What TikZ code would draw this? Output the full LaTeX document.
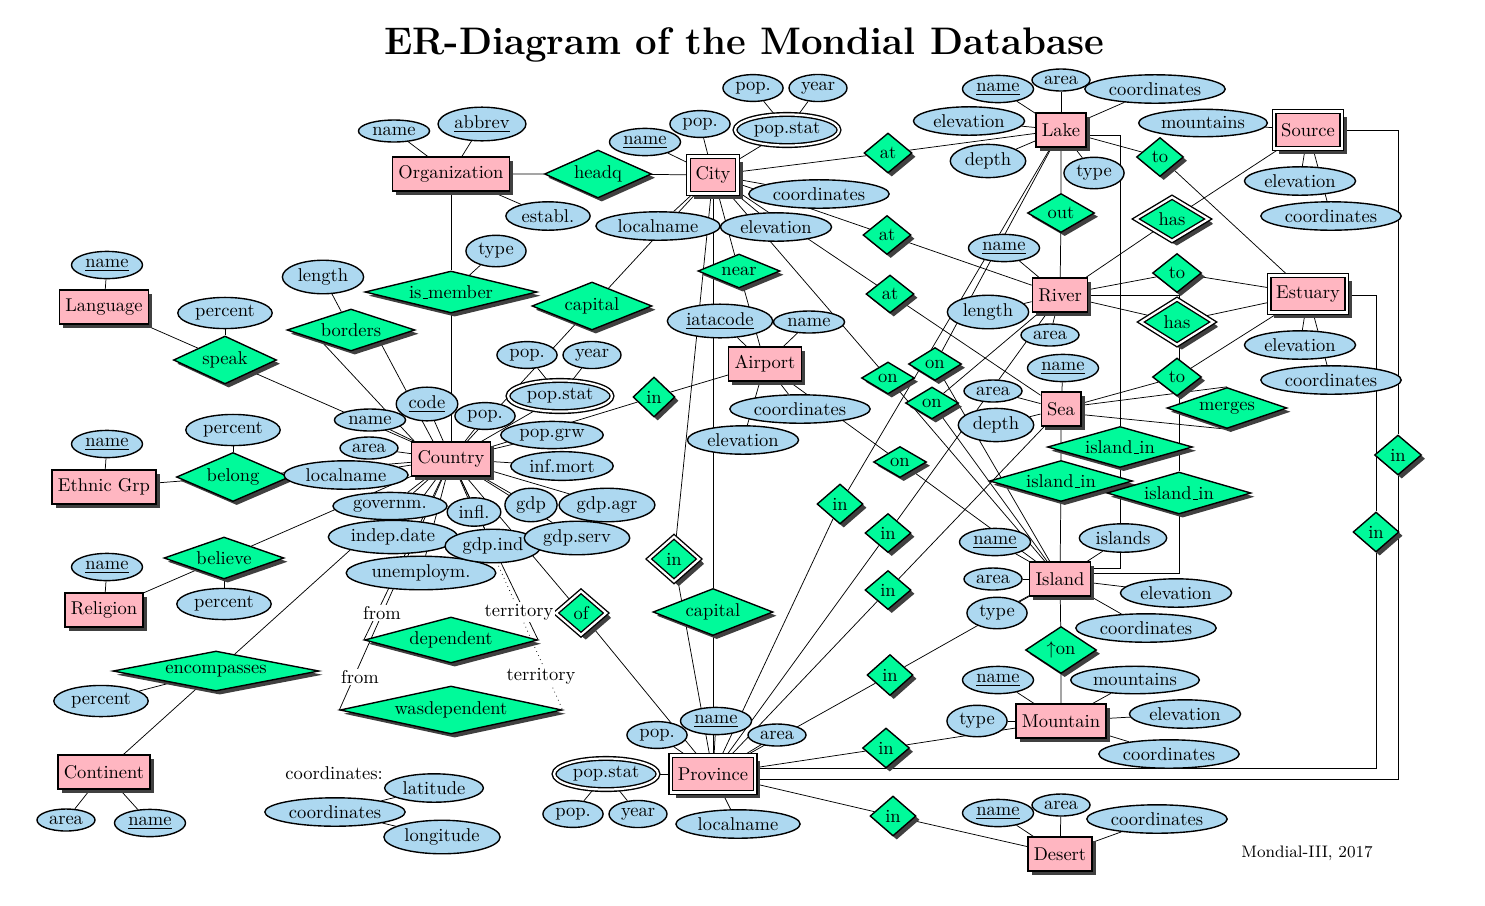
\documentclass[tikz,border=0pt]{standalone}
\usetikzlibrary{shapes.geometric,shadows,calc}
\definecolor{entpink}{RGB}{255,182,193}
\definecolor{attrblue}{RGB}{173,216,240}
\definecolor{relgreen}{RGB}{0,250,154}
\pgfdeclarelayer{background}
\pgfsetlayers{background,main}
% narrow underscore as in Computer Modern
\newcommand{\usc}{\kern.06em\vbox{\hrule width.3em}}
\begin{document}
\begin{tikzpicture}[x=0.54pt,y=-0.54pt,line width=0.75pt,
  dropsh/.style={drop shadow={shadow xshift=2pt,shadow yshift=-2pt,fill=black!75,opacity=1}},
  ent/.style={rectangle,draw,fill=entpink,inner xsep=3.2pt,minimum height=18.2pt,dropsh},
  went/.style={rectangle,draw,fill=entpink,double,double distance=1.2pt,inner xsep=3.8pt,minimum height=20pt,
     drop shadow={shadow xshift=2.8pt,shadow yshift=-2.8pt,fill=black!75,opacity=1}},
  attr/.style={ellipse,draw,fill=attrblue,inner sep=1.9pt},
  mattr/.style={attr,double,double distance=1.2pt},
  rel/.style={diamond,draw,fill=relgreen,inner sep=0pt,dropsh},
  wrel/.style={rel,double,double distance=1.2pt,
     drop shadow={shadow xshift=2.6pt,shadow yshift=-2.6pt,fill=black!75,opacity=1}},
  dia/.style 2 args={minimum width=#1*0.54pt,minimum height=#2*0.54pt,
     /utils/exec={\pgfmathsetmacro\diaasp{#1/#2}},aspect=\diaasp},
  lbl/.style={fill=white,inner sep=1pt}]
\useasboundingbox (0,0) rectangle (1485,905);

\node[font=\huge\bfseries] (title) at (744,45) {ER-Diagram of the Mondial Database};

% entities
\node[ent]  (org)       at (451,174) {Organization};
\node[went] (city)      at (713,175) {City};
\node[ent]  (lake)      at (1061,130) {Lake};
\node[went] (source)    at (1308,130) {Source};
\node[ent]  (lang)      at (104,307) {Language};
\node[ent]  (river)     at (1060,295) {River};
\node[went] (estuary)   at (1308,294) {Estuary};
\node[ent]  (airport)   at (765,364) {Airport};
\node[ent]  (sea)       at (1061,409) {Sea};
\node[ent]  (country)   at (451,459) {Country};
\node[ent]  (ethnic)    at (104,487) {Ethnic Grp};
\node[ent]  (religion)  at (104,610) {Religion};
\node[ent]  (island)    at (1060,579) {Island};
\node[ent]  (mountain)  at (1061,721) {Mountain};
\node[ent]  (continent) at (104,772) {Continent};
\node[went] (province)  at (713,774) {Province};
\node[ent]  (desert)    at (1060,854) {Desert};

% relationships
\node[rel,dia={107}{48}]  (headq)    at (598,174) {headq};
\node[rel,dia={172}{42}]  (ismember) at (451,292) {is\usc member};
\node[rel,dia={120}{48}]  (capU)     at (592,306) {capital};
\node[rel,dia={128}{42}]  (borders)  at (351,330) {borders};
\node[rel,dia={103}{48}]  (speak)    at (225,360) {speak};
\node[rel,dia={113}{49}]  (belong)   at (233,477) {belong};
\node[rel,dia={120}{42}]  (believe)  at (224,558) {believe};
\node[rel,dia={206}{40}]  (encomp)   at (216,671) {encompasses};
\node[rel,dia={173}{46}]  (dep)      at (451,640) {dependent};
\node[rel,dia={222}{48}]  (wasdep)   at (451,710) {wasdependent};
\node[rel,dia={42}{40}]   (inAir)    at (654,397) {in};
\node[wrel,dia={51}{45}]  (inCity)   at (674,559) {in};
\node[wrel,dia={51}{44}]  (of)       at (581,613) {of};
\node[rel,dia={120}{47}]  (capL)     at (713,612) {capital};
\node[rel,dia={82}{34}]   (near)     at (739,271) {near};
\node[rel,dia={48}{40}]   (atLake)   at (888,153) {at};
\node[rel,dia={48}{39}]   (atRiver)  at (887,235) {at};
\node[rel,dia={48}{38}]   (atSea)    at (890,294) {at};
\node[rel,dia={67}{39}]   (out)      at (1061,213) {out};
\node[rel,dia={47}{39}]   (toLE)     at (1160,157) {to};
\node[wrel,dia={73}{44}]  (hasSR)    at (1172,219) {has};
\node[rel,dia={49}{39}]   (toRE)     at (1177,273) {to};
\node[wrel,dia={73}{46}]  (hasRE)    at (1177,322) {has};
\node[rel,dia={49}{38}]   (toSE)     at (1177,377) {to};
\node[rel,dia={120}{41}]  (merges)   at (1227,408) {merges};
\node[rel,dia={145}{41}]  (ilLake)   at (1120,447) {island\usc in};
\node[rel,dia={143}{41}]  (ilSea)    at (1061,481) {island\usc in};
\node[rel,dia={144}{42}]  (ilRiver)  at (1179,493) {island\usc in};
\node[rel,dia={53}{32}]   (onCity)   at (888,378) {on};
\node[rel,dia={53}{33}]   (onLake)   at (935,364) {on};
\node[rel,dia={53}{32}]   (onRiver)  at (932,403) {on};
\node[rel,dia={53}{31}]   (onAir)    at (900,462) {on};
\node[rel,dia={46}{40}]   (inLake)   at (840,504) {in};
\node[rel,dia={46}{39}]   (inRiver)  at (888,533) {in};
\node[rel,dia={46}{39}]   (inSea)    at (888,590) {in};
\node[rel,dia={46}{41}]   (inIsl)    at (890,675) {in};
\node[rel,dia={47}{40}]   (inMtn)    at (886,748) {in};
\node[rel,dia={46}{40}]   (inDes)    at (893,816) {in};
\node[rel,dia={71}{47}]   (upon)     at (1061,650) {$\uparrow$on};
\node[rel,dia={47}{40}]   (inSrc)    at (1398,455) {in};
\node[rel,dia={46}{40}]   (inEst)    at (1376,532) {in};

% attributes of Organization and City
\node[attr]  (orgName)    at (394,131) {name};
\node[attr]  (orgAbbrev)  at (482,124) {\underline{abbrev}};
\node[attr]  (orgEstabl)  at (548,216) {establ.};
\node[attr]  (cityName)   at (645,142) {\underline{name}};
\node[attr]  (cityPop)    at (700,124) {pop.};
\node[mattr] (cityPS)     at (787,130) {pop.stat};
\node[attr]  (cityPSpop)  at (753,88) {pop.};
\node[attr]  (cityPSyear) at (818,88) {year};
\node[attr]  (cityCoord)  at (819,194) {coordinates};
\node[attr]  (cityElev)   at (776,227) {elevation};
\node[attr]  (cityLocal)  at (658,226) {localname};

% attributes of Airport
\node[attr]  (airIata)    at (720,321) {\underline{iatacode}};
\node[attr]  (airName)    at (809,322) {name};
\node[attr]  (airCoord)   at (800,409) {coordinates};
\node[attr]  (airElev)    at (743,440) {elevation};

% attributes of Country
\node[attr]  (ctyCode)    at (427,404) {\underline{code}};
\node[attr]  (ctyName)    at (370,420) {name};
\node[attr]  (ctyArea)    at (369,448) {area};
\node[attr]  (ctyLocal)   at (346,475) {localname};
\node[attr]  (ctyGov)     at (390,506) {governm.};
\node[attr]  (ctyIndep)   at (393,537) {indep.date};
\node[attr]  (ctyUnemp)   at (421,573) {unemploym.};
\node[attr]  (ctyInfl)    at (474,512) {infl.};
\node[attr]  (ctyGdpInd)  at (493,546) {gdp.ind};
\node[attr]  (ctyGdp)     at (531,505) {gdp};
\node[attr]  (ctyGdpAgr)  at (607,505) {gdp.agr};
\node[attr]  (ctyGdpServ) at (577,538) {gdp.serv};
\node[attr]  (ctyInfMort) at (562,466) {inf.mort};
\node[attr]  (ctyPopGrw)  at (552,435) {pop.grw};
\node[attr]  (ctyPop)     at (485,416) {pop.};
\node[mattr] (ctyPS)      at (560,396) {pop.stat};
\node[attr]  (ctyPSpop)   at (527,355) {pop.};
\node[attr]  (ctyPSyear)  at (592,355) {year};

% attributes on the left side
\node[attr]  (langName)   at (107,265) {\underline{name}};
\node[attr]  (speakPct)   at (225,313) {percent};
\node[attr]  (bordLen)    at (323,277) {length};
\node[attr]  (memType)    at (496,251) {type};
\node[attr]  (ethName)    at (107,444) {\underline{name}};
\node[attr]  (belPct)     at (233,430) {percent};
\node[attr]  (relName)    at (107,567) {\underline{name}};
\node[attr]  (belvPct)    at (224,604) {percent};
\node[attr]  (encPct)     at (101,701) {percent};
\node[attr]  (contArea)   at (66,820) {area};
\node[attr]  (contName)   at (150,823) {\underline{name}};

% composite attribute coordinates
\node        (legLabel)   at (334,773) {coordinates:};
\node[attr]  (legCoord)   at (335,812) {coordinates};
\node[attr]  (legLat)     at (434,788) {latitude};
\node[attr]  (legLon)     at (442,837) {longitude};

% attributes of Province
\node[mattr] (provPS)     at (606,774) {pop.stat};
\node[attr]  (provPSpop)  at (573,814) {pop.};
\node[attr]  (provPSyear) at (638,814) {year};
\node[attr]  (provPop)    at (657,735) {pop.};
\node[attr]  (provName)   at (716,721) {\underline{name}};
\node[attr]  (provArea)   at (777,735) {area};
\node[attr]  (provLocal)  at (738,824) {localname};

% attributes of the geographical entities
\node[attr]  (lakeName)   at (998,89) {\underline{name}};
\node[attr]  (lakeArea)   at (1061,80) {area};
\node[attr]  (lakeCoord)  at (1155,89) {coordinates};
\node[attr]  (lakeElev)   at (969,121) {elevation};
\node[attr]  (lakeDepth)  at (988,161) {depth};
\node[attr]  (lakeType)   at (1094,173) {type};
\node[attr]  (srcMount)   at (1203,123) {mountains};
\node[attr]  (srcElev)    at (1300,181) {elevation};
\node[attr]  (srcCoord)   at (1331,216) {coordinates};
\node[attr]  (rivName)    at (1004,248) {\underline{name}};
\node[attr]  (rivLen)     at (988,312) {length};
\node[attr]  (rivArea)    at (1050,335) {area};
\node[attr]  (estElev)    at (1300,345) {elevation};
\node[attr]  (estCoord)   at (1331,380) {coordinates};
\node[attr]  (seaName)    at (1063,368) {\underline{name}};
\node[attr]  (seaArea)    at (993,391) {area};
\node[attr]  (seaDepth)   at (996,425) {depth};
\node[attr]  (islName)    at (995,542) {\underline{name}};
\node[attr]  (islArea)    at (993,579) {area};
\node[attr]  (islType)    at (997,613) {type};
\node[attr]  (islIslands) at (1123,538) {islands};
\node[attr]  (islElev)    at (1176,593) {elevation};
\node[attr]  (islCoord)   at (1146,628) {coordinates};
\node[attr]  (mtnName)    at (998,680) {\underline{name}};
\node[attr]  (mtnType)    at (977,721) {type};
\node[attr]  (mtnMount)   at (1135,680) {mountains};
\node[attr]  (mtnElev)    at (1185,714) {elevation};
\node[attr]  (mtnCoord)   at (1169,754) {coordinates};
\node[attr]  (desName)    at (998,813) {\underline{name}};
\node[attr]  (desArea)    at (1061,805) {area};
\node[attr]  (desCoord)   at (1157,819) {coordinates};

\node[font=\small] (credit) at (1307,853) {Mondial-III, 2017};

% role labels of dependent / wasdependent
\node[lbl] (fromA) at (382,613) {from};
\node[lbl] (terrA) at (519,612) {territory};
\node[lbl] (fromB) at (360,677) {from};
\node[lbl] (terrB) at (541,676) {territory};

\begin{pgfonlayer}{background}
% attribute edges
\foreach \a in {orgName,orgAbbrev,orgEstabl} \draw (org) -- (\a);
\foreach \a in {cityName,cityPop,cityPS,cityCoord,cityElev,cityLocal} \draw (city) -- (\a);
\foreach \a in {cityPSpop,cityPSyear} \draw (cityPS) -- (\a);
\foreach \a in {airIata,airName,airCoord,airElev} \draw (airport) -- (\a);
\foreach \a in {ctyCode,ctyName,ctyArea,ctyLocal,ctyGov,ctyIndep,ctyUnemp,ctyInfl,ctyGdpInd,
  ctyGdp,ctyGdpAgr,ctyGdpServ,ctyInfMort,ctyPopGrw,ctyPop,ctyPS} \draw (country) -- (\a);
\foreach \a in {ctyPSpop,ctyPSyear} \draw (ctyPS) -- (\a);
\draw (lang) -- (langName);
\draw (speak) -- (speakPct);
\draw (borders) -- (bordLen);
\draw (ismember) -- (memType);
\draw (ethnic) -- (ethName);
\draw (belong) -- (belPct);
\draw (religion) -- (relName);
\draw (believe) -- (belvPct);
\draw (encomp) -- (encPct);
\draw (continent) -- (contArea);
\draw (continent) -- (contName);
\draw (legCoord) -- (legLat);
\draw (legCoord) -- (legLon);
\foreach \a in {provPS,provPop,provName,provArea,provLocal} \draw (province) -- (\a);
\foreach \a in {provPSpop,provPSyear} \draw (provPS) -- (\a);
\foreach \a in {lakeName,lakeArea,lakeCoord,lakeElev,lakeDepth,lakeType} \draw (lake) -- (\a);
\foreach \a in {srcMount,srcElev,srcCoord} \draw (source) -- (\a);
\foreach \a in {rivName,rivLen,rivArea} \draw (river) -- (\a);
\foreach \a in {estElev,estCoord} \draw (estuary) -- (\a);
\foreach \a in {seaName,seaArea,seaDepth} \draw (sea) -- (\a);
\foreach \a in {islName,islArea,islType,islIslands,islElev,islCoord} \draw (island) -- (\a);
\foreach \a in {mtnName,mtnType,mtnMount,mtnElev,mtnCoord} \draw (mountain) -- (\a);
\foreach \a in {desName,desArea,desCoord} \draw (desert) -- (\a);

% relationship edges
\draw (org) -- (headq) -- (city);
\draw (org) -- (ismember) -- (country);
\draw (city) -- (capU) -- (country);
\draw (lang) -- (speak) -- (country);
\draw ($(borders.west)!0.55!(borders.south)$) -- ([xshift=2pt]country.north west);
\draw ($(borders.south)!0.45!(borders.east)$) -- ([xshift=12pt]country.north west);
\draw (ethnic) -- (belong) -- (country);
\draw (religion) -- (believe) -- (country);
\draw (continent) -- (encomp) -- (country);
\draw (country) -- (dep.west);
\draw (country) -- (wasdep.west);
\draw (country) -- (dep.east);
\draw[dotted] (country) -- (wasdep.east);
\draw (country) -- (inAir) -- (airport);
\draw (country) -- (of) -- (province);
\draw (city) -- (inCity) -- (province);
\draw (city) -- (capL) -- (province);
\draw (city) -- (near) -- (airport);
\draw (city) -- (atLake) -- (lake);
\draw (city) -- (atRiver) -- (river);
\draw (city) -- (atSea) -- (sea);
\draw (lake) -- (out) -- (river);
\draw (lake) -- (toLE) -- (estuary);
\draw (source) -- (hasSR) -- (river);
\draw (river) -- (toRE) -- (estuary);
\draw (river) -- (hasRE) -- (estuary);
\draw (sea) -- (toSE) -- (estuary);
\draw ([yshift=2pt]sea.east) -- (merges.north);
\draw ([yshift=-3pt]sea.east) -- (merges.south);
\draw ([yshift=-2.7pt]lake.east) -| (ilLake.north);
\draw (ilLake.south) |- ([yshift=5.9pt]island.east);
\draw (sea) -- (ilSea) -- (island);
\draw (river.east) -| (ilRiver.north);
\draw (ilRiver.south) |- ([yshift=3.2pt]island.east);
\draw (city) -- (onCity) -- (island);
\draw (lake) -- (onLake) -- (island);
\draw (river) -- (onRiver) -- (island);
\draw (airport) -- (onAir) -- (island);
\draw (lake) -- (inLake) -- (province);
\draw (river) -- (inRiver) -- (province);
\draw (sea) -- (inSea) -- (province);
\draw (island) -- (inIsl) -- (province);
\draw (mountain) -- (inMtn) -- (province);
\draw (desert) -- (inDes) -- (province);
\draw (island) -- (upon) -- (mountain);
\draw (source.east) -| (inSrc.north);
\draw (inSrc.south) |- ([yshift=-2.7pt]province.east);
\draw ([yshift=-1pt]estuary.east) -| (inEst.north);
\draw (inEst.south) |- ([yshift=3.2pt]province.east);
\end{pgfonlayer}
\end{tikzpicture}
\end{document}
